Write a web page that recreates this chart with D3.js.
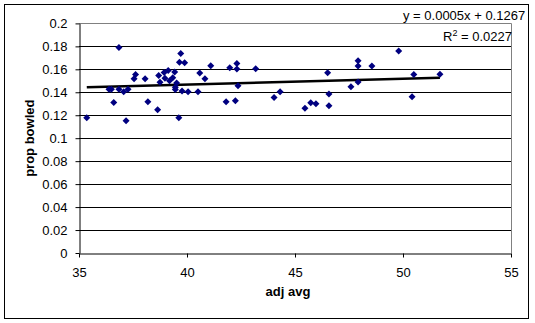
<!DOCTYPE html>
<html>
<head>
<meta charset="utf-8">
<script src="https://cdn.jsdelivr.net/npm/d3@7"></script>
<style>
  body { margin: 0; background: #fff; }
  svg text { font-family: Arial, "Liberation Sans", sans-serif; font-size: 13px; fill: #000; }
</style>
</head>
<body>
<svg id="chart" width="535" height="323"></svg>
<script>
// adj avg vs prop bowled
const adjAvg = [35.36, 36.39, 36.50, 36.61, 36.85, 36.85, 37.07, 37.18, 37.27, 37.55,
  37.62, 38.06, 38.19, 38.64, 38.69, 38.75, 38.94, 38.98, 39.13, 39.19,
  39.34, 39.43, 39.52, 39.46, 39.46, 39.62, 39.65, 39.71, 39.77, 39.89,
  40.05, 40.51, 40.59, 40.83, 41.10, 41.81, 41.98, 42.24, 42.31, 42.31,
  42.36, 43.18, 44.03, 44.31, 45.46, 45.73, 45.97, 46.51, 46.57, 46.57,
  47.59, 47.92, 47.92, 47.92, 48.56, 49.80, 50.42, 50.50, 51.71];
const propBowled = [0.1179, 0.1426, 0.1426, 0.1311, 0.1790, 0.1426, 0.1405, 0.1152, 0.1426, 0.1518,
  0.1555, 0.1518, 0.1318, 0.1248, 0.1546, 0.1487, 0.1572, 0.1522, 0.1590, 0.1501,
  0.1526, 0.1577, 0.1481, 0.1443, 0.1424, 0.1179, 0.1662, 0.1738, 0.1411, 0.1658,
  0.1405, 0.1405, 0.1568, 0.1518, 0.1631, 0.1318, 0.1614, 0.1327, 0.1651, 0.1603,
  0.1457, 0.1605, 0.1355, 0.1405, 0.1260, 0.1309, 0.1300, 0.1570, 0.1385, 0.1283,
  0.1448, 0.1674, 0.1629, 0.1490, 0.1629, 0.1760, 0.1362, 0.1555, 0.1557];
const xTicks = [35, 40, 45, 50, 55];
const yTicks = [0, 0.02, 0.04, 0.06, 0.08, 0.1, 0.12, 0.14, 0.16, 0.18, 0.2];
const trendSlope = 0.0005;
const trendIntercept = 0.1267;

const svg = d3.select('#chart');

// chart border
svg.append('rect')
  .attr('x', 4.5).attr('y', 4.5)
  .attr('width', 524).attr('height', 314)
  .attr('fill', '#fff').attr('stroke', '#000');

const x = d3.scaleLinear().domain([35, 55]).range([79, 511]);
const y = d3.scaleLinear().domain([0, 0.2]).range([253, 23.4]);

// gridlines
svg.append('g')
  .selectAll('line')
  .data(yTicks.filter(d => d > 0 && d < 0.2))
  .enter()
  .append('line')
  .attr('x1', x(35)).attr('x2', x(55))
  .attr('y1', d => Math.round(y(d)) + 0.5)
  .attr('y2', d => Math.round(y(d)) + 0.5)
  .attr('stroke', '#000');

// plot area border top/right (grey)
svg.append('path')
  .attr('d', `M${x(35)},${Math.round(y(0.2)) + 0.5}H${Math.round(x(55)) + 0.5}V${y(0)}`)
  .attr('fill', 'none')
  .attr('stroke', '#808080');

// axes
const yAxis = svg.append('g')
  .attr('transform', `translate(${Math.round(x(35)) + 0.5},0)`)
  .call(d3.axisLeft(y).tickValues(yTicks).tickSize(4).tickSizeOuter(0).tickPadding(8)
    .tickFormat(d => +d.toFixed(2)));

const xAxis = svg.append('g')
  .attr('transform', `translate(0,${Math.round(y(0)) + 0.5})`)
  .call(d3.axisBottom(x).tickValues(xTicks).tickSize(4).tickSizeOuter(0).tickPadding(10));

svg.selectAll('.domain').attr('stroke', '#000');
svg.selectAll('.tick line').attr('stroke', '#000');
svg.selectAll('.tick text')
  .style('font-family', 'Arial, "Liberation Sans", sans-serif')
  .style('font-size', '13px');

// trendline
svg.append('line')
  .attr('x1', x(d3.min(adjAvg)))
  .attr('y1', y(trendSlope * d3.min(adjAvg) + trendIntercept))
  .attr('x2', x(d3.max(adjAvg)))
  .attr('y2', y(trendSlope * d3.max(adjAvg) + trendIntercept))
  .attr('stroke', '#000')
  .attr('stroke-width', 2.5);

// markers
const pts = adjAvg.map((v, i) => [v, propBowled[i]]);
svg.append('g')
  .selectAll('path')
  .data(pts)
  .enter()
  .append('path')
  .attr('transform', d => `translate(${x(d[0])},${y(d[1])})`)
  .attr('d', 'M0,-3.5L3.5,0L0,3.5L-3.5,0Z')
  .attr('fill', '#000080');

// trendline label
svg.append('text')
  .attr('x', 403).attr('y', 20)
  .text(`y = ${trendSlope}x + ${trendIntercept}`);

const r2 = svg.append('text').attr('x', 443).attr('y', 41);
r2.append('tspan').text('R');
r2.append('tspan').attr('dy', -5).style('font-size', '9px').text('2');
r2.append('tspan').attr('dy', 5).text(' = 0.0227');

// axis titles
svg.append('text')
  .attr('x', 288).attr('y', 296)
  .attr('text-anchor', 'middle')
  .style('font-weight', 'bold')
  .text('adj avg');

svg.append('text')
  .attr('transform', `translate(34,${(y(0) + y(0.2)) / 2}) rotate(-90)`)
  .attr('text-anchor', 'middle')
  .style('font-weight', 'bold')
  .text('prop bowled');
</script>
</body>
</html>
